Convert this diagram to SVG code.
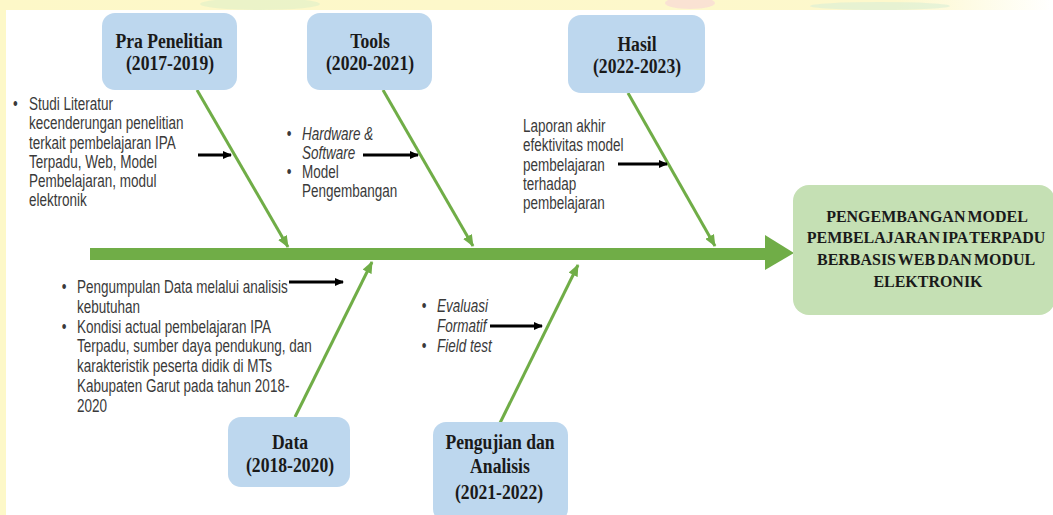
<svg xmlns="http://www.w3.org/2000/svg" width="1053" height="515" viewBox="0 0 1053 515">
  <defs>
    <style>
      .box { fill: #bdd7ee; }
      .goal { fill: #c5e0b4; }
      .title { font-family: "Liberation Serif", "Times New Roman", serif; font-weight: bold; font-size: 21px; fill: #1a1a1a; text-anchor: middle; }
      .goaltxt { font-family: "Liberation Serif", "Times New Roman", serif; font-weight: bold; font-size: 17px; fill: #1a1a1a; text-anchor: middle; word-spacing: -2px; }
      .body { font-family: "Liberation Sans", Arial, sans-serif; font-size: 18.5px; fill: #3a3a3a; }
      .it { font-style: italic; }
      .bone { stroke: #70ad47; stroke-width: 3; fill: none; }
      .ptr { stroke: #000; stroke-width: 3; fill: none; }
    </style>
    <marker id="gHead" markerUnits="userSpaceOnUse" markerWidth="12" markerHeight="10" refX="11" refY="5" orient="auto">
      <path d="M0,0 L12,5 L0,10 z" fill="#70ad47"/>
    </marker>
    <marker id="kHead" markerUnits="userSpaceOnUse" markerWidth="9" markerHeight="8" refX="8" refY="4" orient="auto">
      <path d="M0,0 L9,4 L0,8 z" fill="#000"/>
    </marker>
    <linearGradient id="band" x1="0" y1="0" x2="1" y2="0">
      <stop offset="0" stop-color="#fdf8c8"/>
      <stop offset="0.85" stop-color="#fdf8cc"/>
      <stop offset="1" stop-color="#ffffff"/>
    </linearGradient>
  </defs>

  <!-- background -->
  <rect x="0" y="0" width="1053" height="515" fill="#ffffff"/>
  <rect x="0" y="0" width="1053" height="10" fill="url(#band)"/>
  <rect x="0" y="0" width="6" height="515" fill="#fdf8c8"/>
  <ellipse cx="260" cy="4" rx="60" ry="6" fill="#dff0c8" opacity="0.6"/>
  <ellipse cx="690" cy="3" rx="25" ry="6" fill="#f8d3d8" opacity="0.6"/>
  <ellipse cx="880" cy="6" rx="70" ry="4" fill="#d9efd6" opacity="0.6"/>

  <!-- connectors -->
  <g id="connectors">
    <g id="spine">
      <rect x="90" y="248" width="677" height="12" fill="#70ad47"/>
      <path d="M765,235 L794,253 L765,270 z" fill="#70ad47"/>
    </g>
    <line class="bone" x1="197" y1="90" x2="288" y2="247" marker-end="url(#gHead)"/>
    <line class="bone" x1="383" y1="90" x2="473" y2="246" marker-end="url(#gHead)"/>
    <line class="bone" x1="628" y1="93" x2="715" y2="246" marker-end="url(#gHead)"/>
    <line class="bone" x1="295" y1="417" x2="372" y2="262" marker-end="url(#gHead)"/>
    <line class="bone" x1="500" y1="423" x2="578" y2="265" marker-end="url(#gHead)"/>
    <line class="ptr" x1="198" y1="155" x2="231" y2="155" marker-end="url(#kHead)"/>
    <line class="ptr" x1="363" y1="155" x2="418" y2="155" marker-end="url(#kHead)"/>
    <line class="ptr" x1="618" y1="164" x2="667" y2="164" marker-end="url(#kHead)"/>
    <line class="ptr" x1="289" y1="282" x2="343" y2="282" marker-end="url(#kHead)"/>
    <line class="ptr" x1="490" y1="326" x2="542" y2="326" marker-end="url(#kHead)"/>
  </g>

  <!-- category nodes -->
  <g id="pra">
    <rect class="box" x="102" y="13" width="135" height="77" rx="13"/>
    <text class="title" transform="translate(169,48) scale(0.84,1)">Pra Penelitian</text>
    <text class="title" transform="translate(170,70) scale(0.84,1)">(2017-2019)</text>
  </g>
  <g id="tools">
    <rect class="box" x="307" y="13" width="125" height="77" rx="13"/>
    <text class="title" transform="translate(370,48) scale(0.84,1)">Tools</text>
    <text class="title" transform="translate(370,70) scale(0.84,1)">(2020-2021)</text>
  </g>
  <g id="hasil">
    <rect class="box" x="568" y="15" width="137" height="78" rx="13"/>
    <text class="title" transform="translate(637,51) scale(0.84,1)">Hasil</text>
    <text class="title" transform="translate(637,73) scale(0.84,1)">(2022-2023)</text>
  </g>
  <g id="data">
    <rect class="box" x="228" y="417" width="122" height="70" rx="13"/>
    <text class="title" transform="translate(290,449) scale(0.84,1)">Data</text>
    <text class="title" transform="translate(290,472) scale(0.84,1)">(2018-2020)</text>
  </g>
  <g id="pengujian">
    <rect class="box" x="433" y="422" width="135" height="100" rx="13"/>
    <text class="title" transform="translate(500,449) scale(0.84,1)">Pengujian dan</text>
    <text class="title" transform="translate(500,473) scale(0.84,1)">Analisis</text>
    <text class="title" transform="translate(499,499) scale(0.84,1)">(2021-2022)</text>
  </g>

  <!-- effect node -->
  <g id="goal">
    <rect class="goal" x="793" y="185" width="262" height="130" rx="16"/>
    <g transform="translate(927,0) scale(0.94,1)">
      <text class="goaltxt" x="0" y="222">PENGEMBANGAN MODEL</text>
      <text class="goaltxt" x="-1" y="243.5">PEMBELAJARAN IPA TERPADU</text>
      <text class="goaltxt" x="-1" y="265">BERBASIS WEB DAN MODUL</text>
      <text class="goaltxt" x="1" y="287">ELEKTRONIK</text>
    </g>
  </g>

  <!-- cause texts -->
  <g id="txt-pra" transform="translate(29,0) scale(0.73,1)">
    <text class="body" x="-22" y="110">•</text>
    <text class="body">
      <tspan x="0" y="110">Studi Literatur</tspan>
      <tspan x="0" y="129.3">kecenderungan penelitian</tspan>
      <tspan x="0" y="148.6">terkait pembelajaran IPA</tspan>
      <tspan x="0" y="167.9">Terpadu, Web, Model</tspan>
      <tspan x="0" y="187.2">Pembelajaran, modul</tspan>
      <tspan x="0" y="206.5">elektronik</tspan>
    </text>
  </g>
  <g id="txt-tools" transform="translate(302,0) scale(0.73,1)">
    <text class="body" x="-21" y="140">•</text>
    <text class="body" x="-21" y="178">•</text>
    <text class="body">
      <tspan class="it" x="0" y="140">Hardware &amp;</tspan>
      <tspan class="it" x="0" y="159">Software</tspan>
      <tspan x="0" y="178">Model</tspan>
      <tspan x="0" y="197.5">Pengembangan</tspan>
    </text>
  </g>
  <g id="txt-hasil" transform="translate(523,0) scale(0.73,1)">
    <text class="body">
      <tspan x="0" y="132">Laporan akhir</tspan>
      <tspan x="0" y="151.3">efektivitas model</tspan>
      <tspan x="0" y="170.6">pembelajaran</tspan>
      <tspan x="0" y="189.9">terhadap</tspan>
      <tspan x="0" y="209.2">pembelajaran</tspan>
    </text>
  </g>
  <g id="txt-data" transform="translate(77,0) scale(0.73,1)">
    <text class="body" x="-21" y="293">•</text>
    <text class="body" x="-21" y="332.6">•</text>
    <text class="body">
      <tspan x="0" y="293">Pengumpulan  Data melalui analisis</tspan>
      <tspan x="0" y="312.8">kebutuhan</tspan>
      <tspan x="0" y="332.6">Kondisi actual pembelajaran IPA</tspan>
      <tspan x="0" y="352.4">Terpadu, sumber daya pendukung, dan</tspan>
      <tspan x="0" y="372.2">karakteristik peserta didik di MTs</tspan>
      <tspan x="0" y="392">Kabupaten Garut pada tahun 2018-</tspan>
      <tspan x="0" y="411.8">2020</tspan>
    </text>
  </g>
  <g id="txt-pengujian" transform="translate(437,0) scale(0.73,1)">
    <text class="body" x="-21" y="312">•</text>
    <text class="body" x="-21" y="352">•</text>
    <text class="body it">
      <tspan x="0" y="312">Evaluasi</tspan>
      <tspan x="0" y="332">Formatif</tspan>
      <tspan x="0" y="352">Field test</tspan>
    </text>
  </g>
</svg>
